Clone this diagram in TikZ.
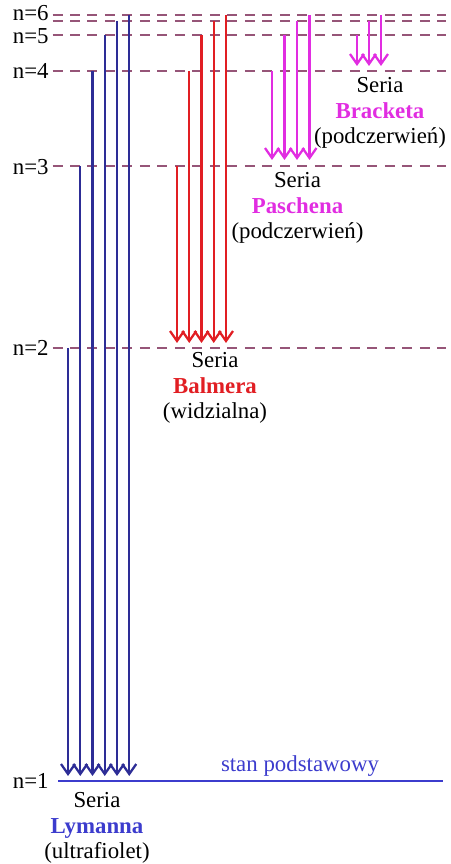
\documentclass[tikz,border=0pt]{standalone}
\usepackage{fontspec}
\setmainfont{Liberation Serif}
\usepackage{xcolor}
\usetikzlibrary{arrows.meta, positioning}

\definecolor{levelcol}{RGB}{150,85,120}
\definecolor{lymancol}{RGB}{45,45,150}
\definecolor{groundcol}{RGB}{60,60,205}
\definecolor{balmercol}{RGB}{225,30,35}
\definecolor{paschencol}{RGB}{225,45,225}

\begin{document}
\begin{tikzpicture}[
    font=\fontsize{13}{14.5}\selectfont,
    lvline/.style={draw=levelcol, line width=1.2pt, dash pattern=on 0.2cm off 0.15cm},
    lvlabel/.style={anchor=east, inner sep=0pt},
    trans/.style={line width=1.3pt, -{Straight Barb[length=0.2cm, width=0.28cm]}},
    lyman/.style={trans, draw=lymancol},
    balmer/.style={trans, draw=balmercol},
    paschen/.style={trans, draw=paschencol},
    series/.style={align=center, inner sep=0pt}
]
    \useasboundingbox (0,0) rectangle (9,17.28);

    % Energy levels
    \coordinate (lv7) at (1.05,16.98);
    \coordinate (lv6) at (1.05,16.86);
    \coordinate (lv5) at (1.05,16.58);
    \coordinate (lv4) at (1.05,15.86);
    \coordinate (lv3) at (1.05,13.96);
    \coordinate (lv2) at (1.05,10.32);
    \coordinate (lv1) at (1.16,1.66);

    \foreach \n in {2,...,7}
        \draw [lvline] (lv\n) -- ++(7.87,0);
    \draw [draw=groundcol, line width=1.3pt] (lv1) -- ++(7.7,0);

    \node (lab6) [lvlabel] at (0.98,17.02) {n=6};
    \node (lab5) [lvlabel] at (0.98,16.55) {n=5};
    \node (lab4) [lvlabel] at (0.98,15.86) {n=4};
    \node (lab3) [lvlabel] at (0.98,13.94) {n=3};
    \node (lab2) [lvlabel] at (0.98,10.32) {n=2};
    \node (lab1) [lvlabel] at (0.98,1.66) {n=1};

    % Arrow tips of each series
    \coordinate (tip1) at (0,1.76);
    \coordinate (tip2) at (0,10.42);
    \coordinate (tip3) at (0,14.08);
    \coordinate (tip4) at (0,15.96);

    % Lyman series
    \foreach \x/\n in {1.36/2, 1.605/3, 1.85/4, 2.095/5, 2.34/6, 2.585/7}
        \draw [lyman] (\x,0 |- lv\n) -- (\x,0 |- tip1);
    % Balmer series
    \foreach \x/\n in {3.54/3, 3.785/4, 4.03/5, 4.275/6, 4.52/7}
        \draw [balmer] (\x,0 |- lv\n) -- (\x,0 |- tip2);
    % Paschen series
    \foreach \x/\n in {5.44/4, 5.69/5, 5.94/6, 6.19/7}
        \draw [paschen] (\x,0 |- lv\n) -- (\x,0 |- tip3);
    % Brackett series
    \foreach \x/\n in {7.14/5, 7.38/6, 7.62/7}
        \draw [paschen] (\x,0 |- lv\n) -- (\x,0 |- tip4);

    % Labels
    \node (ground_txt) [text=groundcol] at (6.0,1.95) {stan podstawowy};
    \node (lyman_txt) [series] at (1.94,0.72) {Seria\\\textcolor{groundcol}{\textbf{Lymanna}}\\(ultrafiolet)};
    \node (balmer_txt) [series] at (4.3,9.52) {Seria\\\textcolor{balmercol}{\textbf{Balmera}}\\(widzialna)};
    \node (paschen_txt) [series] at (5.95,13.12) {Seria\\\textcolor{paschencol}{\textbf{Paschena}}\\(podczerwień)};
    \node (brackett_txt) [series] at (7.6,15.02) {Seria\\\textcolor{paschencol}{\textbf{Bracketa}}\\(podczerwień)};
\end{tikzpicture}
\end{document}
